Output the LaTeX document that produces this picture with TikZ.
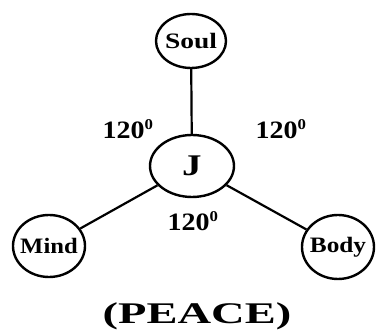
\documentclass[tikz,border=0pt]{standalone}
\usepackage{fontspec}
\setmainfont{Liberation Serif}
\usetikzlibrary{shapes.geometric}
\tikzset{
  bub/.style={draw=black, line width=2.4pt, ellipse, inner sep=0pt, fill=white},
  conn/.style={draw=black, line width=2.2pt},
  lbl/.style={inner sep=0pt, text=black, font=\bfseries}
}
\newcommand{\sz}[3]{\scalebox{#1}[1]{\fontsize{#2}{#2}\selectfont\bfseries #3}}
\newcommand{\degmark}{\textsuperscript{\fontsize{15}{15}\selectfont 0}}
\begin{document}
\begin{tikzpicture}[x=1pt,y=-1pt]
  \fill[white] (0,0) rectangle (376,336);
  \useasboundingbox (0,0) rectangle (376,336);
  \node[bub, minimum width=70pt, minimum height=54pt] (soul) at (191,41) {};
  \node[bub, minimum width=84pt, minimum height=62pt] (j) at (192,166) {};
  \node[bub, minimum width=72pt, minimum height=62pt] (mind) at (49,246) {};
  \node[bub, minimum width=72pt, minimum height=64pt] (body) at (338,247) {};
  \draw[conn] (soul) -- (j);
  \draw[conn] (mind) -- (j);
  \draw[conn] (j) -- (body);
  \node[lbl] (tsoul) at (soul.center) {\sz{1.25}{22}{Soul}};
  \node[lbl] (tj) at (j.center) {\sz{1.3}{30}{J}};
  \node[lbl] (tmind) at (mind.center) {\sz{1.12}{22}{Mind}};
  \node[lbl] (tbody) at (body.center) {\sz{1.15}{22}{Body}};
  \node[lbl] (al) at (128,129) {\sz{1.12}{25}{120\degmark}};
  \node[lbl] (ar) at (281,129) {\sz{1.12}{25}{120\degmark}};
  \node[lbl] (ab) at (193,221) {\sz{1.12}{25}{120\degmark}};
  \node[lbl] (peace) at (197,316) {\sz{1.55}{30}{(PEACE)}};
\end{tikzpicture}
\end{document}
